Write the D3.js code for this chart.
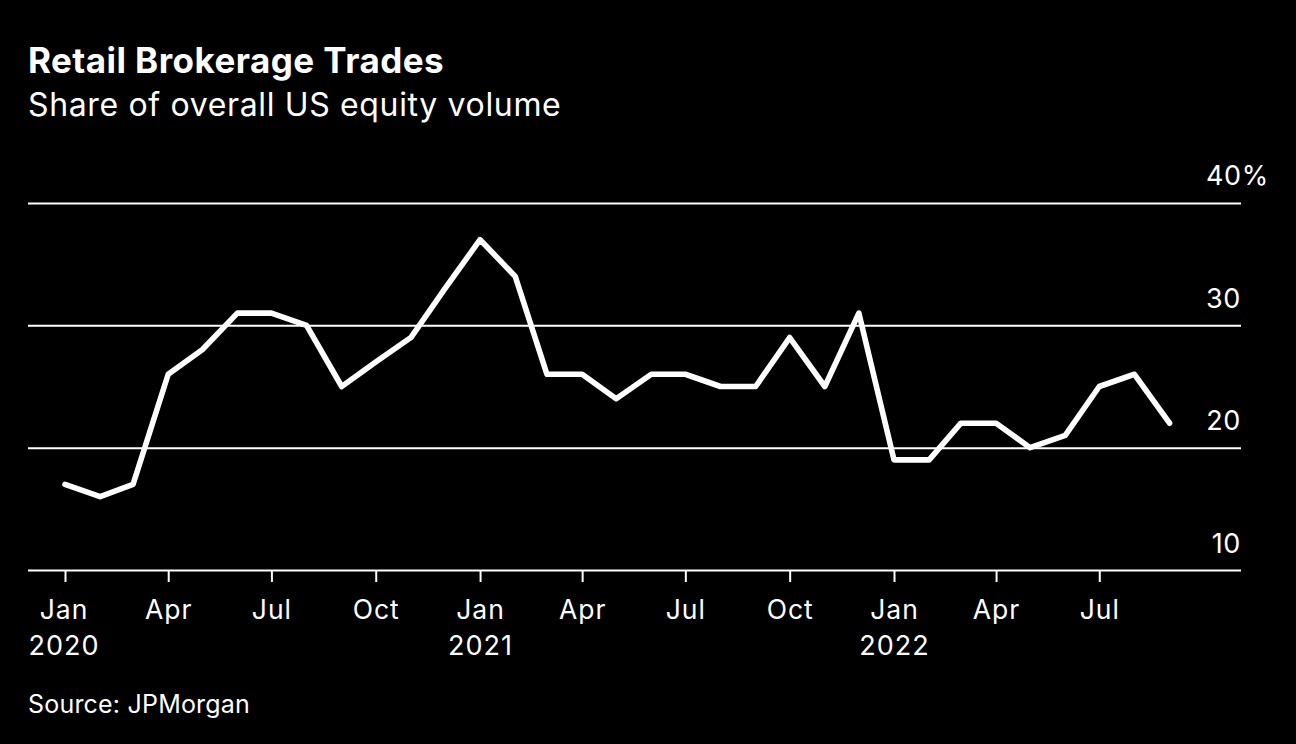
<!DOCTYPE html>
<html>
<head>
<meta charset="utf-8">
<script src="https://cdn.jsdelivr.net/npm/d3@7"></script>
<style>
  html, body { margin: 0; background: #000; }
  svg { display: block; }
  text { fill: #fff; font-family: Inter, "Liberation Sans", sans-serif; }
</style>
</head>
<body>
<svg id="chart" width="1296" height="744"></svg>
<script>
const title = 'Retail Brokerage Trades'
const subtitle = 'Share of overall US equity volume'
const source = 'Source: JPMorgan'

const months = [
  '2020-01', '2020-02', '2020-03', '2020-04', '2020-05', '2020-06', '2020-07', '2020-08', '2020-09', '2020-10', '2020-11', '2020-12',
  '2021-01', '2021-02', '2021-03', '2021-04', '2021-05', '2021-06', '2021-07', '2021-08', '2021-09', '2021-10', '2021-11', '2021-12',
  '2022-01', '2022-02', '2022-03', '2022-04', '2022-05', '2022-06', '2022-07', '2022-08', '2022-09'
]
const share = [
  17, 16, 17, 26, 28, 31, 31, 30, 25, 27, 29, 33,
  37, 34, 26, 26, 24, 26, 26, 25, 25, 29, 25, 31,
  19, 19, 22, 22, 20, 21, 25, 26, 22
]
const yTicks = [10, 20, 30, 40]
const xTicks = [
  '2020-01', '2020-04', '2020-07', '2020-10',
  '2021-01', '2021-04', '2021-07', '2021-10',
  '2022-01', '2022-04', '2022-07'
]

const parse = d3.timeParse('%Y-%m')
const svg = d3.select('#chart')

const x = d3.scaleTime()
  .domain([parse('2020-01'), parse('2022-01')])
  .range([65, 894])
const y = d3.scaleLinear().domain([10, 40]).range([570, 203])

// Gridlines and value labels

const yAxis = d3.axisRight(y)
  .tickValues(yTicks)
  .tickSize(1213)
  .tickFormat(d => d === 40 ? d + '%' : d)

svg.append('g')
  .attr('transform', 'translate(28, 0)')
  .call(yAxis)
  .call(g => g.select('.domain').remove())
  .call(g => g.selectAll('line').attr('stroke', '#fff').attr('stroke-width', 2))
  .call(g => g.selectAll('text')
    .attr('x', d => d === 40 ? 1178 : 1213)
    .attr('y', d => d === 40 ? -19 : -18)
    .attr('dy', 0)
    .attr('text-anchor', d => d === 40 ? 'start' : 'end')
    .attr('font-size', 27)
    .attr('letter-spacing', 0.6)
    .attr('font-family', null)
    .style('fill', '#fff'))

// Month ticks and labels

const xAxis = d3.axisBottom(x)
  .tickValues(xTicks.map(parse))
  .tickSize(12)
  .tickPadding(0)
  .tickFormat(d3.timeFormat('%b'))

const xg = svg.append('g')
  .attr('transform', `translate(0, ${y(10)})`)
  .call(xAxis)
  .call(g => g.select('.domain').remove())
  .call(g => g.selectAll('line').attr('stroke', '#fff').attr('stroke-width', 2))

xg.selectAll('text')
  .attr('y', 49)
  .attr('dy', 0)
  .attr('font-size', 26.5)
  .attr('letter-spacing', 1)
  .attr('font-family', null)
  .style('fill', '#fff')

xg.selectAll('.tick')
  .filter(d => d.getMonth() === 0)
  .append('text')
  .attr('y', 85)
  .attr('text-anchor', 'middle')
  .attr('font-size', 27)
  .attr('letter-spacing', 1)
  .text(d => d.getFullYear())

// First column sits a little left of its tick
xg.selectAll('.tick')
  .filter(d => +d === +parse('2020-01'))
  .selectAll('text')
  .attr('x', -1.5)

// Series

const line = d3.line()
  .x((d, i) => x(parse(months[i])))
  .y(d => y(d))

svg.append('path')
  .datum(share)
  .attr('d', line)
  .attr('fill', 'none')
  .attr('stroke', '#fff')
  .attr('stroke-width', 5.6)
  .attr('stroke-linejoin', 'round')
  .attr('stroke-linecap', 'round')

// Headings

svg.append('text').attr('x', 28).attr('y', 73)
  .attr('font-size', 35).attr('font-weight', 700).attr('letter-spacing', 0.45).text(title)
svg.append('text').attr('x', 28).attr('y', 116)
  .attr('font-size', 32).attr('letter-spacing', 0.65).text(subtitle)
svg.append('text').attr('x', 28).attr('y', 713)
  .attr('font-size', 25).attr('letter-spacing', 0.2).text(source)
</script>
</body>
</html>
